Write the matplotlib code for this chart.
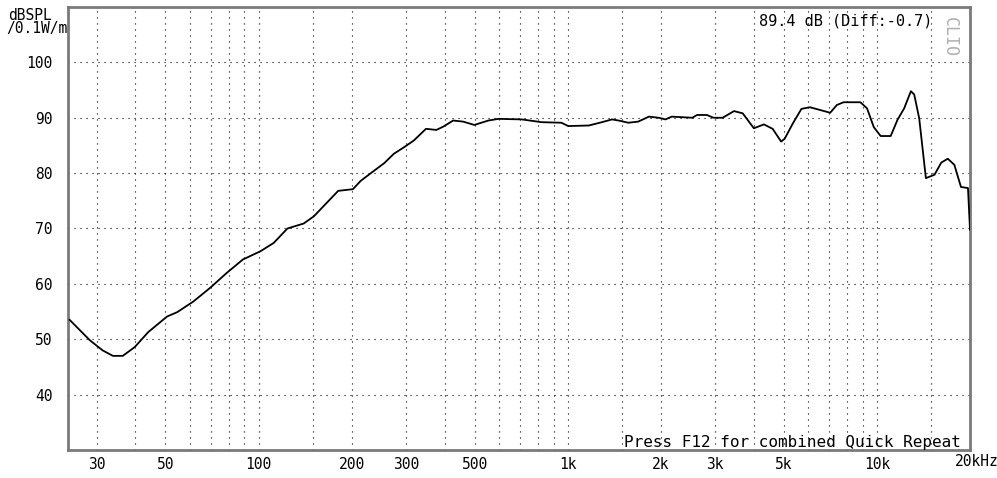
import matplotlib
matplotlib.use("Agg")
import matplotlib.pyplot as plt

# 频率响应数据
freq = [24.5, 28.5, 31.3, 33.8, 36.4, 39.8, 44, 50.6, 54.6, 61.5, 69.8, 79, 89,
        101.5, 112, 124, 140, 151, 181, 202, 214, 236, 255, 274, 296, 318, 348,
        376, 396, 426, 459, 499, 554, 597, 710, 823, 954, 1004, 1170, 1290, 1390,
        1460, 1570, 1690, 1830, 1970, 2070, 2170, 2530, 2620, 2820, 2960, 3170,
        3450, 3680, 4000, 4310, 4600, 4900, 5030, 5350, 5700, 6070, 6550, 7060,
        7420, 7800, 8840, 9290, 9770, 10280, 11080, 11650, 12250, 12880, 13200,
        13700, 14400, 15350, 16150, 16950, 17800, 18700, 19700, 20000]
spl = [53.5, 49.8, 48.0, 47.0, 47.0, 48.6, 51.3, 54.1, 54.9, 56.8, 59.3, 62.0,
       64.4, 65.9, 67.4, 70.0, 70.9, 72.2, 76.8, 77.1, 78.6, 80.4, 81.8, 83.5,
       84.7, 85.9, 88.0, 87.8, 88.4, 89.5, 89.3, 88.7, 89.5, 89.8, 89.7, 89.2,
       89.1, 88.5, 88.6, 89.2, 89.7, 89.5, 89.1, 89.3, 90.2, 90.0, 89.7, 90.2,
       90.0, 90.5, 90.5, 90.0, 90.0, 91.2, 90.8, 88.1, 88.8, 88.0, 85.7, 86.2,
       89.0, 91.6, 91.9, 91.4, 90.9, 92.3, 92.8, 92.8, 91.7, 88.3, 86.7, 86.7,
       89.6, 91.7, 94.8, 94.2, 89.9, 79.1, 79.7, 81.9, 82.6, 81.5, 77.5, 77.3,
       69.8]

# 网格线位置和刻度标签
x_grid = [30, 40, 50, 60, 70, 80, 90, 100, 150, 200, 300, 400, 500, 600, 700,
          800, 900, 1000, 1500, 2000, 3000, 4000, 5000, 6000, 7000, 8000, 9000,
          10000, 15000]
x_labels = {30: "30", 50: "50", 100: "100", 200: "200", 300: "300", 500: "500",
            1000: "1k", 2000: "2k", 3000: "3k", 5000: "5k", 10000: "10k"}
y_ticks = [40, 50, 60, 70, 80, 90, 100]

font = "DejaVu Sans Mono"
fs = 10.5

fig = plt.figure(figsize=(9.97, 4.78), dpi=100)
ax = fig.add_axes([68 / 997, 1 - 450 / 478, 902 / 997, 443 / 478])

ax.plot(freq, spl, color="black", lw=1.3, zorder=3)

ax.set_xscale("log")
ax.set_xlim(24.2, 20000)
ax.set_ylim(30, 110)

ax.set_xticks(x_grid)
ax.set_xticklabels([x_labels.get(f, "") for f in x_grid], family=font, fontsize=fs)
ax.xaxis.set_minor_locator(matplotlib.ticker.NullLocator())
ax.set_yticks(y_ticks)
ax.set_yticklabels([str(v) for v in y_ticks], family=font, fontsize=fs)
ax.tick_params(axis="x", length=0, pad=5)
ax.tick_params(axis="y", length=0, pad=11)

ax.grid(True, color="black", linestyle=(0, (1, 4.4)), linewidth=0.8)

for s in ax.spines.values():
    s.set_color("#7a7a7a")
    s.set_linewidth(2)

# 轴标签
fig.text(52 / 997, 1 - 15 / 478, "dBSPL", family=font, fontsize=fs, ha="right", va="center")
fig.text(68 / 997, 1 - 29 / 478, "/0.1W/m", family=font, fontsize=fs, ha="right", va="center")
ax.annotate("20kHz", xy=(20000, 0), xycoords=("data", "axes fraction"),
            xytext=(-15, -12), textcoords="offset pixels", ha="left", va="center",
            family=font, fontsize=fs, annotation_clip=False)

# 右上角和底部的文字
fig.text(846 / 997, 1 - 21 / 478, "89.4 dB (Diff:-0.7)", family=font, fontsize=11,
         ha="center", va="center")
fig.text(950 / 997, 1 - 37 / 478, "CLIO", family=font, fontsize=12, color="#b0b0b0",
         rotation=270, ha="center", va="center")
fig.text(792 / 997, 1 - 442 / 478, "Press F12 for combined Quick Repeat", family=font,
         fontsize=11.5, ha="center", va="center")

fig.savefig("out.png", dpi=100)
